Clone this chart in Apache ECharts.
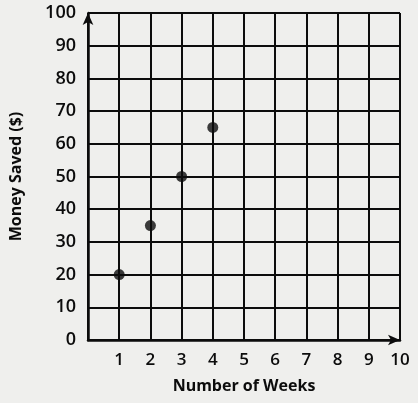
<!DOCTYPE html>
<html>
<head>
<meta charset="utf-8">
<script src="https://cdn.jsdelivr.net/npm/echarts@6/dist/echarts.min.js"></script>
<style>
  html, body { margin: 0; padding: 0; background: #efefed; }
  #chart { width: 418px; height: 403px; }
</style>
</head>
<body>
<div id="chart"></div>
<script>
// weeks and money saved
var weeks = [1, 2, 3, 4]
var saved = [20, 35, 50, 65]
var xTicks = ['0', '1', '2', '3', '4', '5', '6', '7', '8', '9', '10']

var chart = echarts.init(document.getElementById('chart'))
var ink = '#0c0c0c'
var font = '"Open Sans", "DejaVu Sans", sans-serif'

chart.setOption({
    backgroundColor: '#efefed',
    animation: false,
    grid: { left: 86, right: 18, top: 13, bottom: 63 },
    xAxis: {
        type: 'value',
        min: 0,
        max: 10,
        interval: 1,
        name: 'Number of Weeks',
        nameLocation: 'middle',
        nameGap: 38,
        nameTextStyle: { color: ink, fontFamily: font, fontWeight: 'bold', fontSize: 16 },
        axisLine: { lineStyle: { color: ink, width: 2.5 }, symbol: ['none', 'arrow'], symbolSize: [8, 12] },
        axisTick: { show: false },
        axisLabel: {
            color: ink, fontFamily: font, fontSize: 17, fontWeight: 600, margin: 12,
            formatter: function (v) { return v === 0 ? '' : xTicks[v] }
        },
        splitLine: { show: true, lineStyle: { color: ink, width: 2 } }
    },
    yAxis: {
        type: 'value',
        min: 0,
        max: 100,
        interval: 10,
        name: 'Money Saved ($)',
        nameLocation: 'middle',
        nameGap: 64,
        nameTextStyle: { color: ink, fontFamily: font, fontWeight: 'bold', fontSize: 16 },
        axisLine: { show: true, lineStyle: { color: ink, width: 2.5 }, symbol: ['none', 'arrow'], symbolSize: [8, 12] },
        axisTick: { show: false },
        axisLabel: { color: ink, fontFamily: font, fontSize: 18, fontWeight: 600, margin: 12 },
        splitLine: { show: true, lineStyle: { color: ink, width: 2 } }
    },
    series: [{
        type: 'scatter',
        data: weeks.map(function (w, i) { return [w, saved[i]] }),
        symbolSize: 11,
        itemStyle: { color: ink }
    }]
})
</script>
</body>
</html>
